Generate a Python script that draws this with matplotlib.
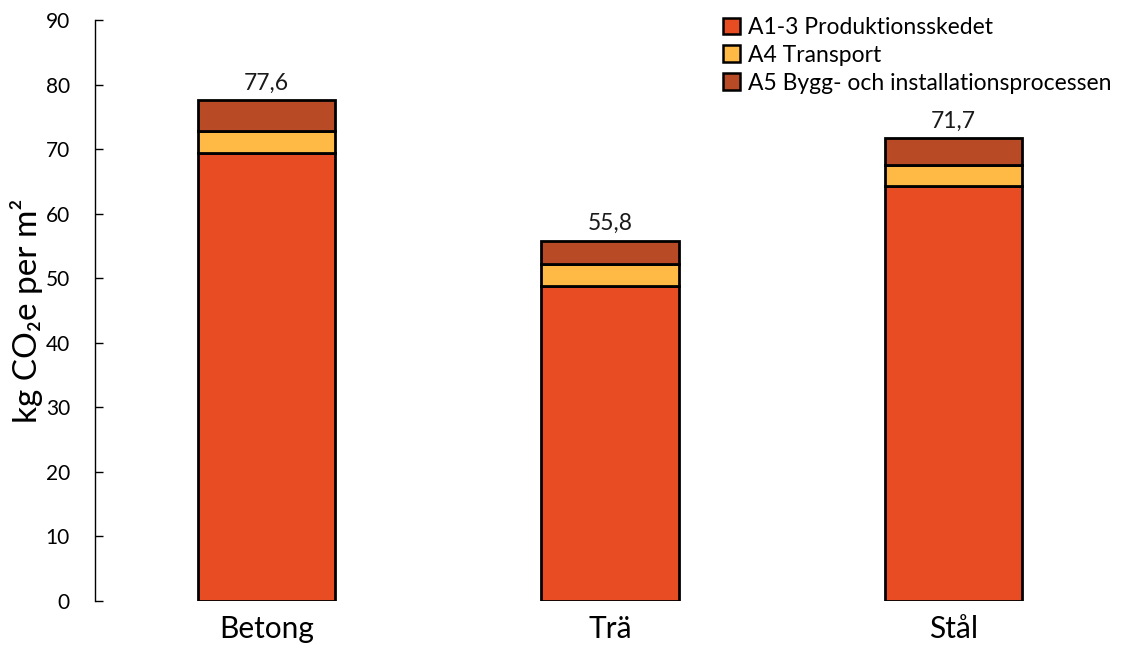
import matplotlib
matplotlib.use("Agg")
import matplotlib.pyplot as plt
import numpy as np
from matplotlib.patches import Patch

plt.rcParams['font.family'] = ['Lato', 'DejaVu Sans']

categories = ["Betong", "Trä", "Stål"]
series_names = ["A1-3 Produktionsskedet", "A4 Transport", "A5 Bygg- och installationsprocessen"]
a13 = [69.4, 48.8, 64.3]
a4 = [3.4, 3.4, 3.2]
a5 = [4.8, 3.6, 4.2]
totals_labels = ["77,6", "55,8", "71,7"]
colors = ["#E84C22", "#FFBA45", "#B84A26"]

fig = plt.figure(figsize=(11.25, 6.45), dpi=100)
ax = fig.add_axes([95/1125, 1-601/645, 1-95/1125, (601-20)/645])

x = np.arange(len(categories))
w = 0.40
bottom = np.zeros(len(categories))
for vals, c in zip([a13, a4, a5], colors):
    ax.bar(x, vals, w, bottom=bottom, color=c, edgecolor='black', linewidth=2, zorder=3)
    bottom = bottom + np.array(vals)

for xi, tot, lab in zip(x, bottom, totals_labels):
    ax.text(xi, tot + 1.0, lab, ha='center', va='bottom', fontsize=16.5, color='#1a1a1a')

ax.set_xlim(-0.5, 2.5)
ax.set_ylim(0, 90)
ax.set_yticks(np.arange(0, 91, 10))
ax.tick_params(axis='y', direction='in', length=6, width=1, labelsize=15, pad=18, colors='black')
ax.tick_params(axis='x', length=0, labelsize=21.5, pad=10)
ax.set_xticks(x)
ax.set_xticklabels(categories)
for s in ['top', 'right', 'bottom']:
    ax.spines[s].set_visible(False)
ax.spines['left'].set_linewidth(1)
ax.set_ylabel("kg CO₂e per m²", fontsize=24, labelpad=2)

handles = [Patch(facecolor=c, edgecolor='black', linewidth=1.8) for c in colors]
fig.legend(handles, series_names, loc='upper right', bbox_to_anchor=(1.0, 0.995),
           frameon=False, fontsize=16.5, handlelength=0.75, handleheight=0.75,
           handletextpad=0.35, labelspacing=0.3, borderaxespad=0.2)

fig.savefig("out.png", dpi=100)
